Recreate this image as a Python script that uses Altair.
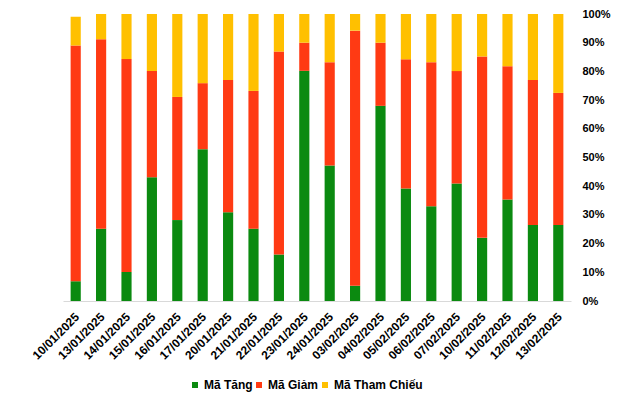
import altair as alt
import pandas as pd

dates = ["10/01/2025", "13/01/2025", "14/01/2025", "15/01/2025", "16/01/2025",
         "17/01/2025", "20/01/2025", "21/01/2025", "22/01/2025", "23/01/2025",
         "24/01/2025", "03/02/2025", "04/02/2025", "05/02/2025", "06/02/2025",
         "07/02/2025", "10/02/2025", "11/02/2025", "12/02/2025", "13/02/2025"]
tang = [6.9, 25.2, 10.1, 43.1, 28.2, 52.9, 30.9, 25.2, 16.2, 80.2,
        47.2, 5.3, 68.0, 39.2, 33.0, 40.9, 22.0, 35.4, 26.5, 26.5]
giam = [82.1, 66.0, 74.2, 37.0, 42.9, 23.0, 46.1, 48.0, 70.7, 9.8,
        36.0, 88.9, 22.0, 45.0, 50.2, 39.2, 63.2, 46.4, 50.5, 46.0]
tham_chieu = [10.0, 8.8, 15.7, 19.9, 28.9, 24.1, 23.0, 26.8, 13.1, 10.0,
              16.8, 5.8, 10.0, 15.8, 16.8, 19.9, 14.8, 18.2, 23.0, 27.5]

series = ["Mã Tăng", "Mã Giảm", "Mã Tham Chiếu"]
colors = ["#0B8A10", "#FF3A13", "#FFC000"]

rows = []
for i, d in enumerate(dates):
    for k, (name, vals) in enumerate(zip(series, [tang, giam, tham_chieu])):
        rows.append({"date": d, "series": name, "value": vals[i] / 100, "ord": k})
df = pd.DataFrame(rows)

font = "Liberation Sans"

chart = alt.Chart(df).mark_bar().encode(
    x=alt.X("date:N", sort=dates, title=None,
            scale=alt.Scale(paddingInner=0.6, paddingOuter=0.3),
            axis=alt.Axis(labelAngle=-45, labelAlign="right", labelBaseline="top",
                          labelFont=font, labelFontSize=12, labelFontWeight="bold",
                          labelColor="#000000", ticks=False, domainColor="#D9D9D9",
                          domainWidth=1, labelPadding=10, labelOffset=-2)),
    y=alt.Y("value:Q", stack="zero", title=None,
            scale=alt.Scale(domain=[0, 1], nice=False),
            axis=alt.Axis(orient="right", format=".0%", values=[i / 10 for i in range(11)],
                          labelFont=font, labelFontSize=11, labelFontWeight="bold",
                          labelColor="#000000", ticks=False, domain=False, grid=False,
                          labelPadding=11)),
    color=alt.Color("series:N", sort=series,
                    scale=alt.Scale(domain=series, range=colors),
                    legend=alt.Legend(title=None, orient="none", direction="horizontal",
                                      legendX=126, legendY=365, symbolType="square",
                                      symbolSize=36, symbolStrokeWidth=0,
                                      labelFont=font, labelFontSize=12,
                                      labelFontWeight="bold",
                                      labelColor="#000000", columnPadding=0,
                                      labelOffset=3)),
    order=alt.Order("ord:Q"),
).properties(
    width=508, height=287, autosize="none",
    padding={"left": 55, "top": 6, "right": 60, "bottom": 93},
).configure_view(stroke=None)

chart.save("out.html", embed_options={"renderer": "svg", "actions": False})
